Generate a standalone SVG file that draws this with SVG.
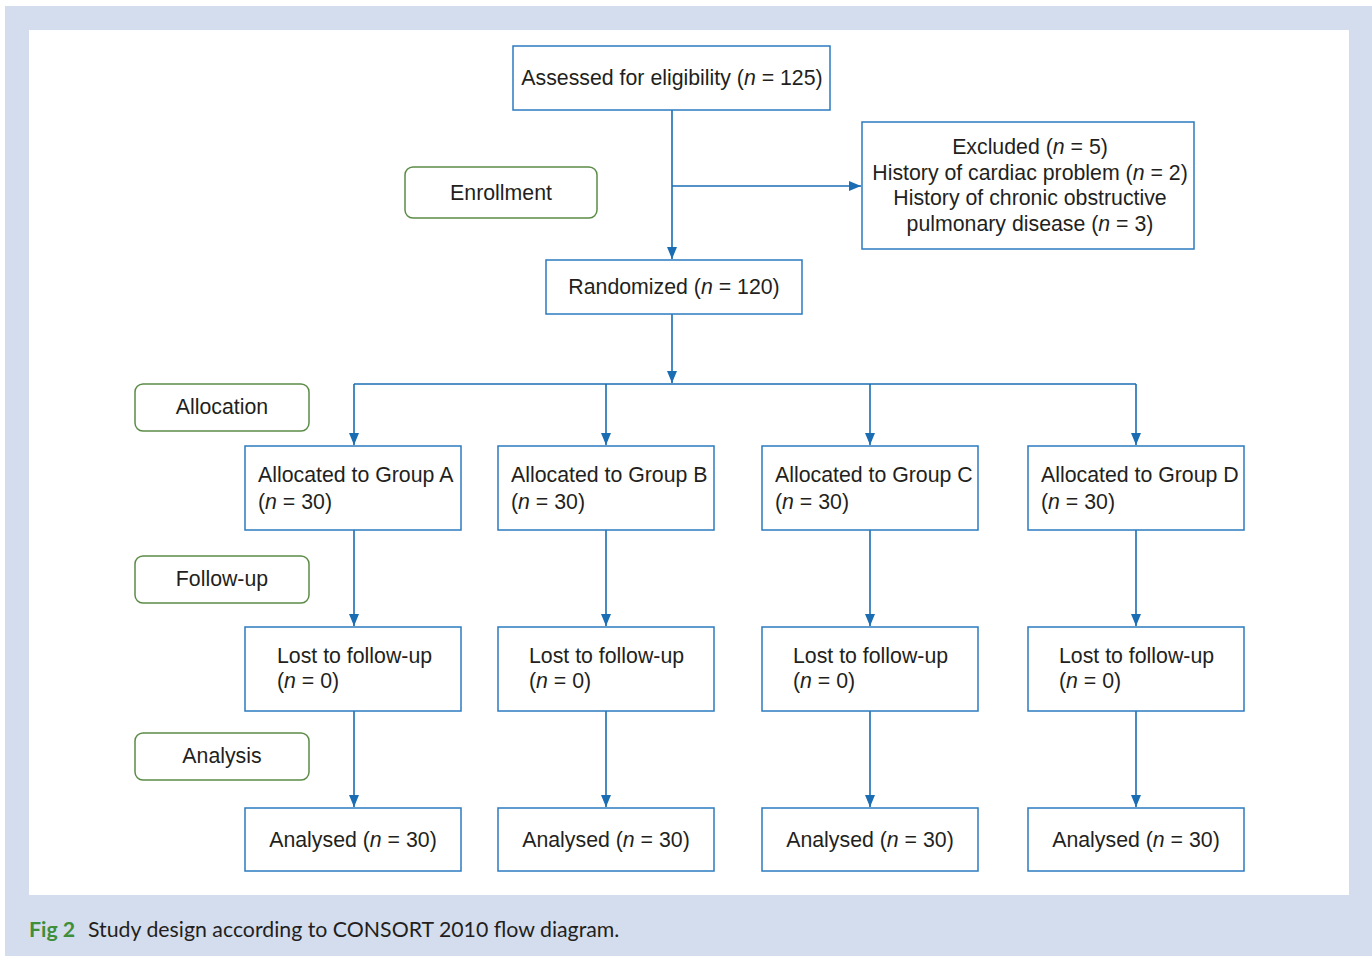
<svg xmlns="http://www.w3.org/2000/svg" width="1372" height="956" viewBox="0 0 1372 956">
<style>
.bg{fill:#D4DDEE}
.box{fill:#fff;stroke:#2C7BC0;stroke-width:1.5}
.stage{fill:#fff;stroke:#5B8C46;stroke-width:1.5}
.t{font-family:"Liberation Sans",Arial,sans-serif;font-size:21.3px;fill:#231F20}
.c{text-anchor:middle}
.conn{stroke:#1A6DB3;stroke-width:1.6;fill:none}
.cap{font-family:Lato,"Noto Sans",sans-serif;font-size:21.3px;fill:#231F20}
</style>
<defs>
<marker id="ah" viewBox="0 0 12 10" refX="12" refY="5" markerWidth="12" markerHeight="10" markerUnits="userSpaceOnUse" orient="auto">
<path d="M0,0 L12,5 L0,10 Z" fill="#1A6DB3"/>
</marker>
</defs>
<rect class="bg" x="5" y="6" width="1367" height="950"/>
<rect x="29" y="30" width="1320" height="865" fill="#fff"/>

<g id="connectors">
<path class="conn" d="M672,110 V259" marker-end="url(#ah)"/>
<path class="conn" d="M672,186 H861" marker-end="url(#ah)"/>
<path class="conn" d="M672,314 V383" marker-end="url(#ah)"/>
<path class="conn" d="M354,384 H1136"/>
<path class="conn" d="M354,384 V445" marker-end="url(#ah)"/>
<path class="conn" d="M606,384 V445" marker-end="url(#ah)"/>
<path class="conn" d="M870,384 V445" marker-end="url(#ah)"/>
<path class="conn" d="M1136,384 V445" marker-end="url(#ah)"/>
<path class="conn" d="M354,530 V626" marker-end="url(#ah)"/>
<path class="conn" d="M606,530 V626" marker-end="url(#ah)"/>
<path class="conn" d="M870,530 V626" marker-end="url(#ah)"/>
<path class="conn" d="M1136,530 V626" marker-end="url(#ah)"/>
<path class="conn" d="M354,711 V807" marker-end="url(#ah)"/>
<path class="conn" d="M606,711 V807" marker-end="url(#ah)"/>
<path class="conn" d="M870,711 V807" marker-end="url(#ah)"/>
<path class="conn" d="M1136,711 V807" marker-end="url(#ah)"/>
</g>

<g id="assessed">
<rect class="box" x="513" y="46" width="317" height="64"/>
<text class="t c" x="672" y="85">Assessed for eligibility (<tspan font-style="italic">n</tspan> = 125)</text>
</g>
<g id="excluded">
<rect class="box" x="862" y="122" width="332" height="127"/>
<text class="t c" x="1030" y="154">Excluded (<tspan font-style="italic">n</tspan> = 5)</text>
<text class="t c" x="1030" y="180">History of cardiac problem (<tspan font-style="italic">n</tspan> = 2)</text>
<text class="t c" x="1030" y="205">History of chronic obstructive</text>
<text class="t c" x="1030" y="231">pulmonary disease (<tspan font-style="italic">n</tspan> = 3)</text>
</g>
<g id="enrollment">
<rect class="stage" x="405" y="167" width="192" height="51" rx="8"/>
<text class="t c" x="501" y="200">Enrollment</text>
</g>
<g id="randomized">
<rect class="box" x="546" y="260" width="256" height="54"/>
<text class="t c" x="674" y="294">Randomized (<tspan font-style="italic">n</tspan> = 120)</text>
</g>
<g id="allocation">
<rect class="stage" x="135" y="384" width="174" height="47" rx="8"/>
<text class="t c" x="222" y="414">Allocation</text>
</g>
<g id="followup">
<rect class="stage" x="135" y="556" width="174" height="47" rx="8"/>
<text class="t c" x="222" y="586">Follow-up</text>
</g>
<g id="analysis">
<rect class="stage" x="135" y="733" width="174" height="47" rx="8"/>
<text class="t c" x="222" y="763">Analysis</text>
</g>

<g id="groupA">
<rect class="box" x="245" y="446" width="216" height="84"/>
<text class="t" x="258" y="482">Allocated to Group A</text>
<text class="t" x="258" y="509">(<tspan font-style="italic">n</tspan> = 30)</text>
</g>
<g id="groupB">
<rect class="box" x="498" y="446" width="216" height="84"/>
<text class="t" x="511" y="482">Allocated to Group B</text>
<text class="t" x="511" y="509">(<tspan font-style="italic">n</tspan> = 30)</text>
</g>
<g id="groupC">
<rect class="box" x="762" y="446" width="216" height="84"/>
<text class="t" x="775" y="482">Allocated to Group C</text>
<text class="t" x="775" y="509">(<tspan font-style="italic">n</tspan> = 30)</text>
</g>
<g id="groupD">
<rect class="box" x="1028" y="446" width="216" height="84"/>
<text class="t" x="1041" y="482">Allocated to Group D</text>
<text class="t" x="1041" y="509">(<tspan font-style="italic">n</tspan> = 30)</text>
</g>

<g id="lostA">
<rect class="box" x="245" y="627" width="216" height="84"/>
<text class="t" x="277" y="663">Lost to follow-up</text>
<text class="t" x="277" y="688">(<tspan font-style="italic">n</tspan> = 0)</text>
</g>
<g id="lostB">
<rect class="box" x="498" y="627" width="216" height="84"/>
<text class="t" x="529" y="663">Lost to follow-up</text>
<text class="t" x="529" y="688">(<tspan font-style="italic">n</tspan> = 0)</text>
</g>
<g id="lostC">
<rect class="box" x="762" y="627" width="216" height="84"/>
<text class="t" x="793" y="663">Lost to follow-up</text>
<text class="t" x="793" y="688">(<tspan font-style="italic">n</tspan> = 0)</text>
</g>
<g id="lostD">
<rect class="box" x="1028" y="627" width="216" height="84"/>
<text class="t" x="1059" y="663">Lost to follow-up</text>
<text class="t" x="1059" y="688">(<tspan font-style="italic">n</tspan> = 0)</text>
</g>

<g id="analysedA">
<rect class="box" x="245" y="808" width="216" height="63"/>
<text class="t c" x="353" y="847">Analysed (<tspan font-style="italic">n</tspan> = 30)</text>
</g>
<g id="analysedB">
<rect class="box" x="498" y="808" width="216" height="63"/>
<text class="t c" x="606" y="847">Analysed (<tspan font-style="italic">n</tspan> = 30)</text>
</g>
<g id="analysedC">
<rect class="box" x="762" y="808" width="216" height="63"/>
<text class="t c" x="870" y="847">Analysed (<tspan font-style="italic">n</tspan> = 30)</text>
</g>
<g id="analysedD">
<rect class="box" x="1028" y="808" width="216" height="63"/>
<text class="t c" x="1136" y="847">Analysed (<tspan font-style="italic">n</tspan> = 30)</text>
</g>

<text class="cap" x="29" y="937"><tspan font-weight="bold" fill="#3E8E3A">Fig 2</tspan><tspan x="88">Study design according to CONSORT 2010 flow diagram.</tspan></text>
</svg>
